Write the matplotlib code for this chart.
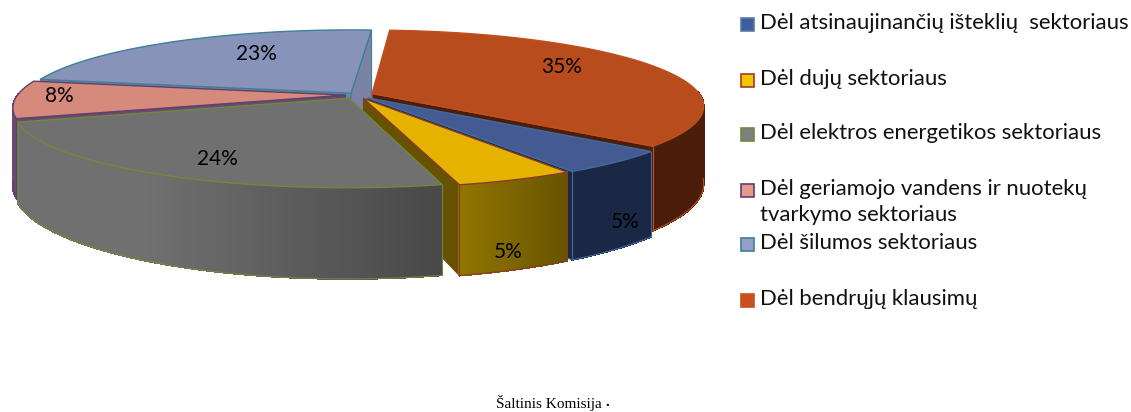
import numpy as np
import matplotlib
matplotlib.use('Agg')
import matplotlib.pyplot as plt
from matplotlib.collections import PolyCollection
from matplotlib.patches import Rectangle, Polygon

# data
names = ['Dėl atsinaujinančių išteklių  sektoriaus', 'Dėl dujų sektoriaus',
         'Dėl elektros energetikos sektoriaus',
         'Dėl geriamojo vandens ir nuotekų\ntvarkymo sektoriaus',
         'Dėl šilumos sektoriaus', 'Dėl bendrųjų klausimų']
shares = [5, 5, 24, 8, 23, 35]
labels = ['5%', '5%', '24%', '8%', '23%', '35%']

# styles
explode = [0.05, 0.05, 0.05, 0.035, 0.03, 0.05]
top_col = ['#445a93', '#e5b200', '#707070', '#d68a7c', '#8893ba', '#b84c1c']
edge_col = ['#3f6c9f', '#8a3a2a', '#6f8a3a', '#5e3f6e', '#3f7f97', '#c0501f']
wall_l = ['#1b2845', '#917600', '#707070', '#6b4a6e', '#6f7898', '#4a1e0a']
wall_r = ['#1b2845', '#675300', '#484848', '#6b4a6e', '#6f7898', '#4a1e0a']
side_col = ['#1b2845', '#665200', '#484848', '#6b4a6e', '#7a83a3', '#4a1e0a']
leg_col = ['#3f5c9c', '#f5c400', '#7f7f7f', '#e8998a', '#93a0c8', '#c8501e']
leg_edge = ['#5a7aa8', '#9c3a30', '#6f8a3a', '#5e3f6e', '#3f7f97', '#c8501e']
leg_y = [24, 80, 134, 190, 244, 300]
lab_x = [625, 508, 217, 59, 256, 562]
lab_y = [222, 252, 159, 96, 54, 67]
draw_order = [4, 3, 5, 0, 1, 2]

cx, cy = 357, 95
rx, ry, persp, depth = 328, 74, 0.16, 76
start = -40.0


def project(u, v):
    s = 1 / (1 + persp * v)
    return cx + rx * u * s, cy - ry * v * s, s


fig = plt.figure(figsize=(11.31, 4.12), dpi=100)
ax = fig.add_axes([0, 0, 1, 1])
ax.set_xlim(0, 1131)
ax.set_ylim(412, 0)
ax.axis('off')

edges = start - np.cumsum([0] + shares) * 3.6
for i in draw_order:
    a0, a1 = edges[i], edges[i + 1]
    mid = np.radians((a0 + a1) / 2)
    ou, ov = explode[i] * np.cos(mid), explode[i] * np.sin(mid)
    t = np.radians(np.linspace(a0, a1, int(abs(a1 - a0) * 2) + 2))
    x, y, s = project(ou + np.cos(t), ov + np.sin(t))
    ax0, ay0, as0 = project(ou, ov)

    # end walls, only when they face the viewer
    for ang, sign, k in ((a0, 1, 0), (a1, -1, -1)):
        if np.sin(np.radians(ang + sign * 90)) < 0:
            q = [(ax0, ay0), (x[k], y[k]), (x[k], y[k] + depth * s[k]),
                 (ax0, ay0 + depth * as0)]
            ax.add_patch(Polygon(q, fc=side_col[i], ec=edge_col[i], lw=0.8))

    # outer wall, shaded in small strips
    quads, cols = [], []
    c0 = np.array(matplotlib.colors.to_rgb(wall_l[i]))
    c1 = np.array(matplotlib.colors.to_rgb(wall_r[i]))
    keep = np.where(np.sin(t) < 0.03)[0]
    if len(keep) > 1:
        xa, xb = x[keep].min(), x[keep].max()
        for j, n in zip(keep[:-1], keep[1:]):
            quads.append([(x[j], y[j]), (x[n], y[n]),
                          (x[n], y[n] + depth * s[n]), (x[j], y[j] + depth * s[j])])
            f = ((x[j] + x[n]) / 2 - xa) / (xb - xa)
            # grey stays flat on the left half
            if i == 2:
                f = max(0, (f - 0.3) / 0.7)
            cols.append(c0 + (c1 - c0) * f)
        ax.add_collection(PolyCollection(quads, facecolors=cols, edgecolors=cols,
                                         linewidths=0.6, antialiaseds=False))
        low = np.where(np.sin(t) < -0.1)[0]
        ax.plot(x[low], y[low] + depth * s[low], color=edge_col[i], lw=0.8)
        for k in (keep[0], keep[-1]):
            if k == 0 or k == len(t) - 1:
                ax.plot([x[k], x[k]], [y[k], y[k] + depth * s[k]], color=edge_col[i], lw=0.8)

    # top face
    px = np.r_[ax0, x]
    py = np.r_[ay0, y]
    ax.add_patch(Polygon(np.c_[px, py], fc=top_col[i], ec=edge_col[i], lw=1.0, joinstyle='miter'))

for i in range(len(labels)):
    ax.text(lab_x[i], lab_y[i], labels[i], fontsize=15, family='Lato', color='black',
            ha='center', va='center')

for i in range(len(names)):
    ax.add_patch(Rectangle((741, leg_y[i] - 6.5), 13, 13, fc=leg_col[i], ec=leg_edge[i], lw=1.2))
    ax.text(760, leg_y[i] - 11, names[i], fontsize=15.9, family='Lato', color='#111111',
            ha='left', va='top', linespacing=1.35)

ax.text(496, 403, 'Šaltinis Komisija', fontsize=11, family='Liberation Serif', ha='left', va='center')
ax.text(605, 403, '.', fontsize=11, family='Liberation Serif', weight='bold', ha='left', va='center')

fig.savefig('out.png', dpi=100)
